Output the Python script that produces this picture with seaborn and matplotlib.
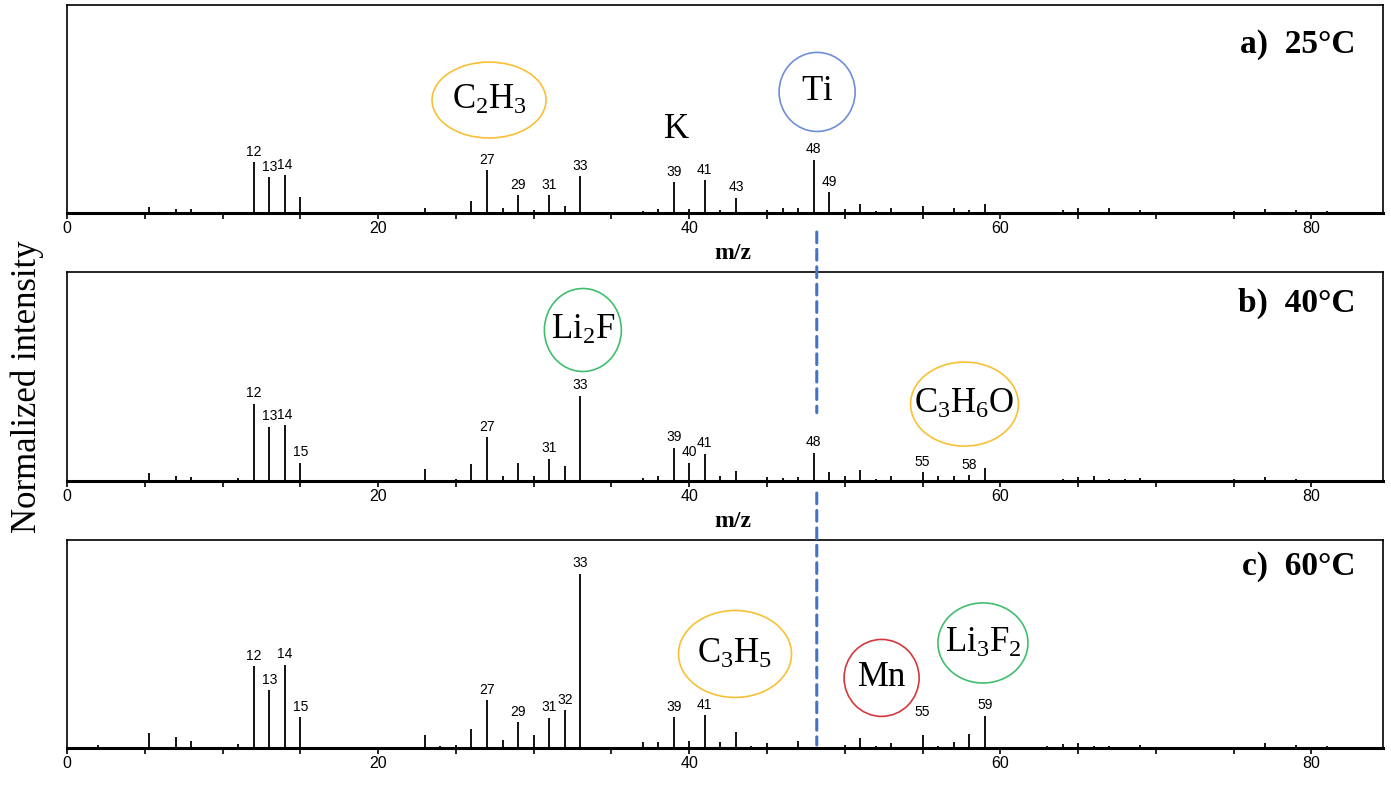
import numpy as np
import pandas as pd
import matplotlib
matplotlib.use("Agg")
import matplotlib.pyplot as plt
import seaborn as sns
from matplotlib.patches import Ellipse, ConnectionPatch

# peak positions (m/z) and heights, one list per temperature
mz = [2, 5.3, 6, 7, 8, 10, 11, 12, 13, 14, 15, 23, 24, 25, 26, 27, 28, 29, 30, 31,
      32, 33, 37, 38, 39, 40, 41, 42, 43, 44, 45, 46, 47, 48, 49, 50, 51, 52, 53, 54,
      55, 56, 57, 58, 59, 61, 62, 63, 64, 65, 66, 67, 68, 69, 71, 73, 75, 77, 79, 81]

int_25 = [1.3, 6, 1, 4, 4, 0.5, 1, 51, 36, 38, 16, 5.3, 1, 1.5, 12.3, 42.7, 4.7, 17.7, 2.7, 17.7,
          7, 37, 1.7, 4, 31, 4, 32.7, 3.3, 15.3, 1, 3.3, 4.7, 5, 53.3, 21, 3.7, 9, 1.7, 4.7, 0.7,
          6.7, 1, 4.7, 2.7, 8.7, 1, 1, 1.3, 3.3, 5.3, 1, 5, 1, 3, 0.7, 0.5, 2, 3.7, 2.7, 1.7]

int_40 = [1, 8, 1, 5, 3.7, 1.3, 3.3, 76.7, 54, 55.7, 18, 11.7, 1, 2.3, 16.7, 43.3, 5.3, 17.7, 5.3, 22.3,
          15.3, 85, 3, 5.3, 33, 18.3, 27.3, 4.5, 10, 1, 3.7, 3, 4, 28, 9.3, 5.3, 11, 2, 5, 0.7,
          8.7, 5, 5, 5.7, 12.7, 1, 1, 1, 2.3, 3.7, 5, 1.7, 2.3, 3, 0.7, 0.5, 2.3, 4, 2.3, 1.3]

int_60 = [2.7, 14.7, 1, 11.3, 7.3, 1, 4, 82, 57.7, 83.3, 31, 12.7, 2, 2.7, 19.3, 48, 8, 26, 13.3, 30.3,
          38, 174.3, 6, 6, 31, 7, 32.7, 6.5, 16.5, 1.7, 4.7, 0.5, 7.3, 1, 1.3, 3.3, 10.3, 2, 5, 1,
          13, 2.3, 6, 13.7, 32.3, 0.5, 0.5, 2, 4, 5.3, 1.7, 2, 0.5, 3.3, 0.5, 0.5, 1.3, 5, 3.3, 1.7]

labels_25 = [12, 13, 14, 27, 29, 31, 33, 39, 41, 43, 48, 49]
labels_40 = [12, 13, 14, 15, 27, 31, 33, 39, 40, 41, 48, 55, 58]
labels_60 = [12, 13, 14, 15, 27, 29, 31, 32, 33, 39, 41, 55, 59]

titles = ["a)  25°C", "b)  40°C", "c)  60°C"]

df = pd.DataFrame({"mz": mz, "25": int_25, "40": int_40, "60": int_60})

sns.set_theme(style="ticks")
plt.rcParams["font.family"] = ["Liberation Sans", "DejaVu Sans"]
plt.rcParams["text.color"] = "black"
plt.rcParams["axes.labelcolor"] = "black"
plt.rcParams["mathtext.fontset"] = "custom"
plt.rcParams["mathtext.rm"] = "Liberation Serif"
plt.rcParams["mathtext.it"] = "Liberation Serif:italic"
plt.rcParams["mathtext.bf"] = "Liberation Serif:bold"

serif = ["Liberation Serif", "DejaVu Serif"]
orange, blue, green, red = "#F9C035", "#6F8ED6", "#40BE6E", "#D3393C"

fig = plt.figure(figsize=(13.91, 8.02), dpi=100)
L, W = 67 / 1391, 1316 / 1391
boxes = [(213, 208), (481, 209), (748, 208)]   # bottom pixel, height pixel
axes = [fig.add_axes([L, 1 - b / 802, W, h / 802]) for b, h in boxes]

cols = ["25", "40", "60"]
lab_lists = [labels_25, labels_40, labels_60]
title_y = [0.808, 0.852, 0.875]
nudge = {(2, 55): 9}

for i, ax in enumerate(axes):
    col = cols[i]
    ax.vlines(df["mz"], 0, df[col], color="black", lw=1.3)
    ax.set_xlim(0, 84.6)
    ax.set_ylim(0, 208)
    ax.set_yticks([])
    ax.set_xticks([0, 20, 40, 60, 80])
    ax.set_xticks(np.arange(0, 85, 5), minor=True)
    ax.tick_params(axis="x", which="both", direction="out", length=4, width=1.2,
                   labelsize=11.5, pad=2, colors="black")
    for s in ["top", "left", "right"]:
        ax.spines[s].set_linewidth(1.2)
        ax.spines[s].set_color("black")
    ax.spines["bottom"].set_linewidth(2.2)
    ax.spines["bottom"].set_color("black")
    if i < 2:
        ax.set_xlabel("m/z", fontsize=17, fontweight="bold", family=serif)
        ax.xaxis.set_label_coords((733 - 67) / 1316, -0.145)
    hmap = dict(zip(df["mz"], df[col]))
    for m in lab_lists[i]:
        ax.annotate(str(m), (m, hmap[m]), xytext=(0, 2.5 + nudge.get((i, m), 0)),
                    textcoords="offset points", ha="center", va="bottom", fontsize=10,
                    color="black")
    ax.text(0.979, title_y[i], titles[i], transform=ax.transAxes, ha="right", va="center",
            fontsize=24, fontweight="bold", family=serif, color="black")


def tag(ax, x, y, w, h, txt, color, size=25):
    ax.add_patch(Ellipse((x, y), w, h, transform=ax.transAxes, fill=False,
                         edgecolor=color, lw=1.2))
    ax.text(x, y, txt, transform=ax.transAxes, ha="center", va="center",
            fontsize=size, family=serif, color="black")


tag(axes[0], 0.3207, 0.543, 0.0866, 0.365, r"$\mathrm{C_2H_3}$", orange)
tag(axes[0], 0.570, 0.582, 0.0578, 0.380, r"$\mathrm{Ti}$", blue)
axes[0].text(0.4635, 0.40, "K", transform=axes[0].transAxes, ha="center", va="center",
             fontsize=25, family=serif, color="black")
tag(axes[1], 0.392, 0.7225, 0.0585, 0.397, r"$\mathrm{Li_2F}$", green)
tag(axes[1], 0.682, 0.368, 0.082, 0.402, r"$\mathrm{C_3H_6O}$", orange)
tag(axes[2], 0.5076, 0.452, 0.0859, 0.418, r"$\mathrm{C_3H_5}$", orange)
tag(axes[2], 0.619, 0.337, 0.057, 0.370, r"$\mathrm{Mn}$", red)
tag(axes[2], 0.696, 0.505, 0.0684, 0.385, r"$\mathrm{Li_3F_2}$", green)

# dashed guide at m/z 48 running down through the panels
xg = 48.2
for (a1, y1), (a2, y2) in [((axes[0], -19), (axes[1], 68)), ((axes[1], -12), (axes[2], 3))]:
    fig.add_artist(ConnectionPatch(xyA=(xg, y1), coordsA=a1.transData,
                                   xyB=(xg, y2), coordsB=a2.transData,
                                   color="#4472C4", lw=2.2, linestyle=(0, (3.5, 2.2))))

fig.text(27 / 1391, 1 - 387 / 802, "Normalized intensity", rotation=90, ha="center",
         va="center", fontsize=25, family=serif, color="black")

fig.savefig("out.png", dpi=100)
